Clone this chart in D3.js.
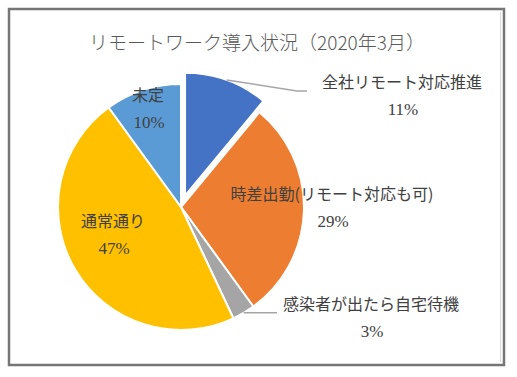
<!DOCTYPE html>
<html>
<head>
<meta charset="utf-8">
<script src="https://cdn.jsdelivr.net/npm/d3@7"></script>
<style>
  body { margin: 0; background: #fff; }
  svg { display: block; }
</style>
</head>
<body>
<div id="chart"></div>
<script>
// data
var categories = ["全社リモート対応推進", "時差出勤(リモート対応も可)", "感染者が出たら自宅待機", "通常通り", "未定"];
var values = [11, 29, 3, 47, 10];
var colors = ["#4472C4", "#ED7D31", "#A5A5A5", "#FFC000", "#5B9BD5"];
var exploded = [true, false, false, false, false];

var w = 517, h = 377;
var cx = 181, cy = 207, r = 123, explode = 12;

// label anchors (centre of the two-line label)
var labelPos = [
  {x: 402, y: 95},
  {x: 332, y: 207},
  {x: 371, y: 317},
  {x: 113, y: 234},
  {x: 148, y: 108}
];

var svg = d3.select("#chart").append("svg")
  .attr("width", w)
  .attr("height", h);

// frame
svg.append("rect")
  .attr("x", 9).attr("y", 9)
  .attr("width", 495).attr("height", 356)
  .attr("fill", "#fff")
  .attr("stroke", "#767676")
  .attr("stroke-width", 2.5);
svg.append("line")
  .attr("x1", 500.5).attr("x2", 500.5)
  .attr("y1", 12).attr("y2", 362)
  .attr("stroke", "#d9d9d9");

// title
svg.append("text")
  .attr("x", 257).attr("y", 50)
  .attr("text-anchor", "middle")
  .attr("font-family", "'Noto Sans CJK JP', sans-serif")
  .attr("font-weight", 300)
  .attr("font-size", 19)
  .attr("fill", "#595959")
  .text("リモートワーク導入状況（2020年3月）");

var dataset = categories.map(function(c, i) {
  return {name: c, value: values[i], color: colors[i], ex: exploded[i], lab: labelPos[i]};
});

var pie = d3.pie().sort(null).value(function(d) { return d.value; });
var arcs = pie(dataset);
var arc = d3.arc().innerRadius(0).outerRadius(r);

function offset(d) {
  if (!d.data.ex) return [0, 0];
  var a = (d.startAngle + d.endAngle) / 2;
  return [Math.sin(a) * explode, -Math.cos(a) * explode];
}
function outerPoint(d) {
  var a = (d.startAngle + d.endAngle) / 2;
  var o = offset(d);
  return [cx + o[0] + Math.sin(a) * r, cy + o[1] - Math.cos(a) * r];
}

var g = svg.append("g").attr("transform", "translate(" + cx + "," + cy + ")");

g.selectAll("path")
  .data(arcs)
  .enter()
  .append("path")
  .attr("d", arc)
  .attr("transform", function(d) { var o = offset(d); return "translate(" + o[0] + "," + o[1] + ")"; })
  .attr("fill", function(d) { return d.data.color; })
  .attr("stroke", "#fff")
  .attr("stroke-width", 2);

// leader lines for the small outside labels
var lineGen = d3.line();
var p0 = outerPoint(arcs[0]);
svg.append("path")
  .attr("d", lineGen([p0, [297, 91], [307, 91]]))
  .attr("fill", "none").attr("stroke", "#a6a6a6").attr("stroke-width", 1.5);
var p2 = outerPoint(arcs[2]);
svg.append("path")
  .attr("d", lineGen([p2, [277, p2[1]]]))
  .attr("fill", "none").attr("stroke", "#a6a6a6").attr("stroke-width", 1.5);

// labels
var labels = svg.selectAll(".lab")
  .data(arcs)
  .enter()
  .append("g")
  .attr("class", "lab");

labels.append("text")
  .attr("x", function(d) { return d.data.lab.x; })
  .attr("y", function(d) { return d.data.lab.y - 7; })
  .attr("text-anchor", "middle")
  .attr("font-family", "'Noto Sans CJK JP', sans-serif")
  .attr("font-size", 16)
  .attr("fill", "#404040")
  .text(function(d) { return d.data.name; });

labels.append("text")
  .attr("x", function(d) { return d.data.lab.x + 1; })
  .attr("y", function(d) { return d.data.lab.y + 20; })
  .attr("text-anchor", "middle")
  .attr("font-family", "'Liberation Serif', serif")
  .attr("font-size", 17)
  .attr("fill", "#404040")
  .text(function(d) { return d.data.value + "%"; });
</script>
</body>
</html>
